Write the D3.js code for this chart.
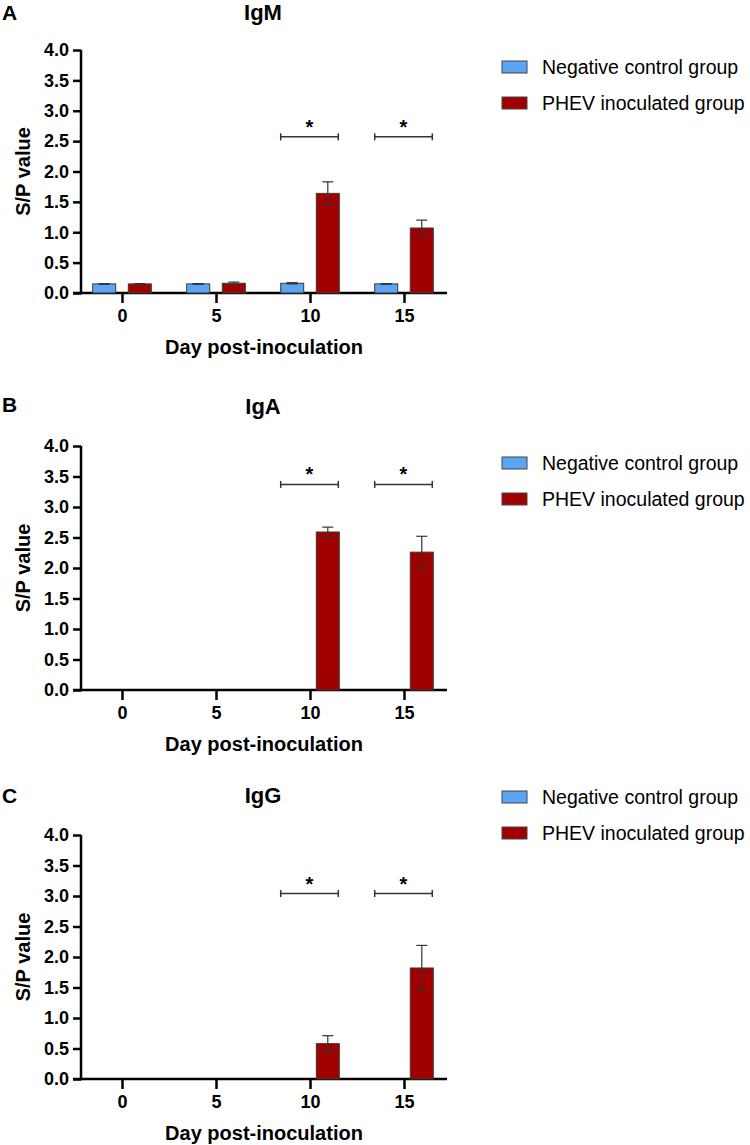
<!DOCTYPE html>
<html>
<head>
<meta charset="utf-8">
<script src="https://cdn.jsdelivr.net/npm/d3@7"></script>
<style>
  html, body { margin: 0; padding: 0; background: #fff; }
  svg { display: block; font-family: Arial, "Liberation Sans", sans-serif; }
</style>
</head>
<body>
<svg id="chart" width="750" height="1145"></svg>
<script>
// ---- data ----
const days = [0, 5, 10, 15];
const seriesNames = ["Negative control group", "PHEV inoculated group"];
const seriesColors = ["#5aa6f4", "#a00000"];
const yTicks = [0, 0.5, 1, 1.5, 2, 2.5, 3, 3.5, 4];

const igmNeg = [0.15, 0.15, 0.16, 0.15];
const igmNegErr = [0.005, 0.005, 0.01, 0.005];
const igmPhev = [0.15, 0.16, 1.64, 1.07];
const igmPhevErr = [0.005, 0.02, 0.19, 0.13];

const igaNeg = [0, 0, 0, 0];
const igaNegErr = [0, 0, 0, 0];
const igaPhev = [0, 0, 2.59, 2.26];
const igaPhevErr = [0, 0, 0.08, 0.26];

const iggNeg = [0, 0, 0, 0];
const iggNegErr = [0, 0, 0, 0];
const iggPhev = [0, 0, 0.58, 1.82];
const iggPhevErr = [0, 0, 0.13, 0.37];

const sigDays = [10, 15];
const sigLevelIgM = 2.57;
const sigLevelIgA = 3.37;
const sigLevelIgG = 3.04;

// ---- layout per panel ----
const panels = [
  { letter: "A", title: "IgM", yTop: 50, yBot: 293, letterY: 20, titleY: 20, legendY: 67,
    neg: igmNeg, negErr: igmNegErr, phev: igmPhev, phevErr: igmPhevErr, sig: sigLevelIgM },
  { letter: "B", title: "IgA", yTop: 446, yBot: 690, letterY: 412, titleY: 414, legendY: 463,
    neg: igaNeg, negErr: igaNegErr, phev: igaPhev, phevErr: igaPhevErr, sig: sigLevelIgA },
  { letter: "C", title: "IgG", yTop: 835, yBot: 1079, letterY: 803, titleY: 803, legendY: 797,
    neg: iggNeg, negErr: iggNegErr, phev: iggPhev, phevErr: iggPhevErr, sig: sigLevelIgG }
];

const svg = d3.select("#chart");
const axisX0 = 81, axisX1 = 447;
const x = d3.scaleLinear().domain([0, 15]).range([122, 404]);
const xSub = d3.scaleBand().domain([0, 1]).range([-29.3, 29.3]).paddingInner(0.354).paddingOuter(0);

panels.forEach(p => {
  const g = svg.append("g");
  const y = d3.scaleLinear().domain([0, 4]).range([p.yBot, p.yTop]);

  g.append("text").attr("x", 2).attr("y", p.letterY).attr("font-size", 21).attr("font-weight", "bold").text(p.letter);
  g.append("text").attr("x", 263).attr("y", p.titleY).attr("text-anchor", "middle")
    .attr("font-size", 22).attr("font-weight", "bold").text(p.title);

  // y axis
  const ya = g.append("g").attr("transform", `translate(${axisX0},0)`)
    .call(d3.axisLeft(y).tickValues(yTicks).tickFormat(d3.format(".1f")).tickSize(8).tickPadding(4));
  ya.select(".domain").attr("stroke", "#000").attr("stroke-width", 2.5).attr("d", `M0,${p.yTop}V${p.yBot + 1.2}`);
  ya.selectAll(".tick line").attr("stroke", "#000").attr("stroke-width", 2.5);
  ya.selectAll(".tick text").attr("font-size", 18).attr("font-weight", "bold").attr("fill", "#000")
    .attr("font-family", "Arial, 'Liberation Sans', sans-serif");

  // x axis
  const xa = g.append("g").attr("transform", `translate(0,${p.yBot})`)
    .call(d3.axisBottom(x).tickValues(days).tickFormat(d3.format("d")).tickSize(10).tickPadding(6));
  xa.select(".domain").attr("stroke", "#000").attr("stroke-width", 2.5).attr("d", `M${axisX0 - 8},0H${axisX1}`);
  xa.selectAll(".tick line").attr("stroke", "#000").attr("stroke-width", 2.5);
  xa.selectAll(".tick text").attr("font-size", 18).attr("font-weight", "bold").attr("fill", "#000")
    .attr("font-family", "Arial, 'Liberation Sans', sans-serif");

  // axis titles
  g.append("text").attr("transform", `translate(23,${(p.yTop + p.yBot) / 2}) rotate(-90)`)
    .attr("text-anchor", "middle").attr("dominant-baseline", "central")
    .attr("font-size", 20).attr("font-weight", "bold").text("S/P value");
  g.append("text").attr("x", 264).attr("y", p.yBot + 61).attr("text-anchor", "middle")
    .attr("font-size", 20).attr("font-weight", "bold").text("Day post-inoculation");

  // bars
  const rows = [];
  days.forEach((d, i) => {
    rows.push({ day: d, s: 0, v: p.neg[i], e: p.negErr[i] });
    rows.push({ day: d, s: 1, v: p.phev[i], e: p.phevErr[i] });
  });
  const shown = rows.filter(r => r.v > 0);
  g.selectAll("rect.bar").data(shown).join("rect").attr("class", "bar")
    .attr("x", r => x(r.day) + xSub(r.s))
    .attr("width", xSub.bandwidth())
    .attr("y", r => y(r.v))
    .attr("height", r => y(0) - y(r.v))
    .attr("fill", r => seriesColors[r.s])
    .attr("stroke", "#3a3a3a").attr("stroke-width", 1);

  // error bars
  const eb = shown.filter(r => r.e > 0);
  eb.forEach(r => {
    const cx = x(r.day) + xSub(r.s) + xSub.bandwidth() / 2;
    const eg = g.append("g").attr("stroke", "#333").attr("stroke-width", 1.2).attr("fill", "none");
    eg.append("line").attr("x1", cx).attr("x2", cx).attr("y1", y(r.v + r.e)).attr("y2", y(r.v - r.e));
    eg.append("line").attr("x1", cx - 5.5).attr("x2", cx + 5.5).attr("y1", y(r.v + r.e)).attr("y2", y(r.v + r.e));
    eg.append("line").attr("x1", cx - 5.5).attr("x2", cx + 5.5).attr("y1", y(r.v - r.e)).attr("y2", y(r.v - r.e));
  });

  // significance brackets
  sigDays.forEach(d => {
    const x1 = x(d) + xSub(0), x2 = x(d) + xSub(1) + xSub.bandwidth() - 1;
    const yy = y(p.sig);
    const sg = g.append("g").attr("stroke", "#333").attr("stroke-width", 1.5);
    sg.append("line").attr("x1", x1).attr("x2", x2).attr("y1", yy).attr("y2", yy);
    sg.append("line").attr("x1", x1).attr("x2", x1).attr("y1", yy - 3.5).attr("y2", yy + 3.5);
    sg.append("line").attr("x1", x2).attr("x2", x2).attr("y1", yy - 3.5).attr("y2", yy + 3.5);
    g.append("text").attr("x", (x1 + x2) / 2).attr("y", yy - 3).attr("text-anchor", "middle")
      .attr("font-size", 20).attr("font-weight", "bold").text("*");
  });

  // legend
  seriesNames.forEach((name, i) => {
    const ly = p.legendY + i * 36;
    g.append("rect").attr("x", 502).attr("y", ly - 6).attr("width", 25).attr("height", 12)
      .attr("fill", seriesColors[i]).attr("stroke", "#444").attr("stroke-width", 1);
    g.append("text").attr("x", 542).attr("y", ly).attr("dominant-baseline", "central")
      .attr("font-size", 19.5).attr("fill", "#000").text(name);
  });
});
</script>
</body>
</html>
